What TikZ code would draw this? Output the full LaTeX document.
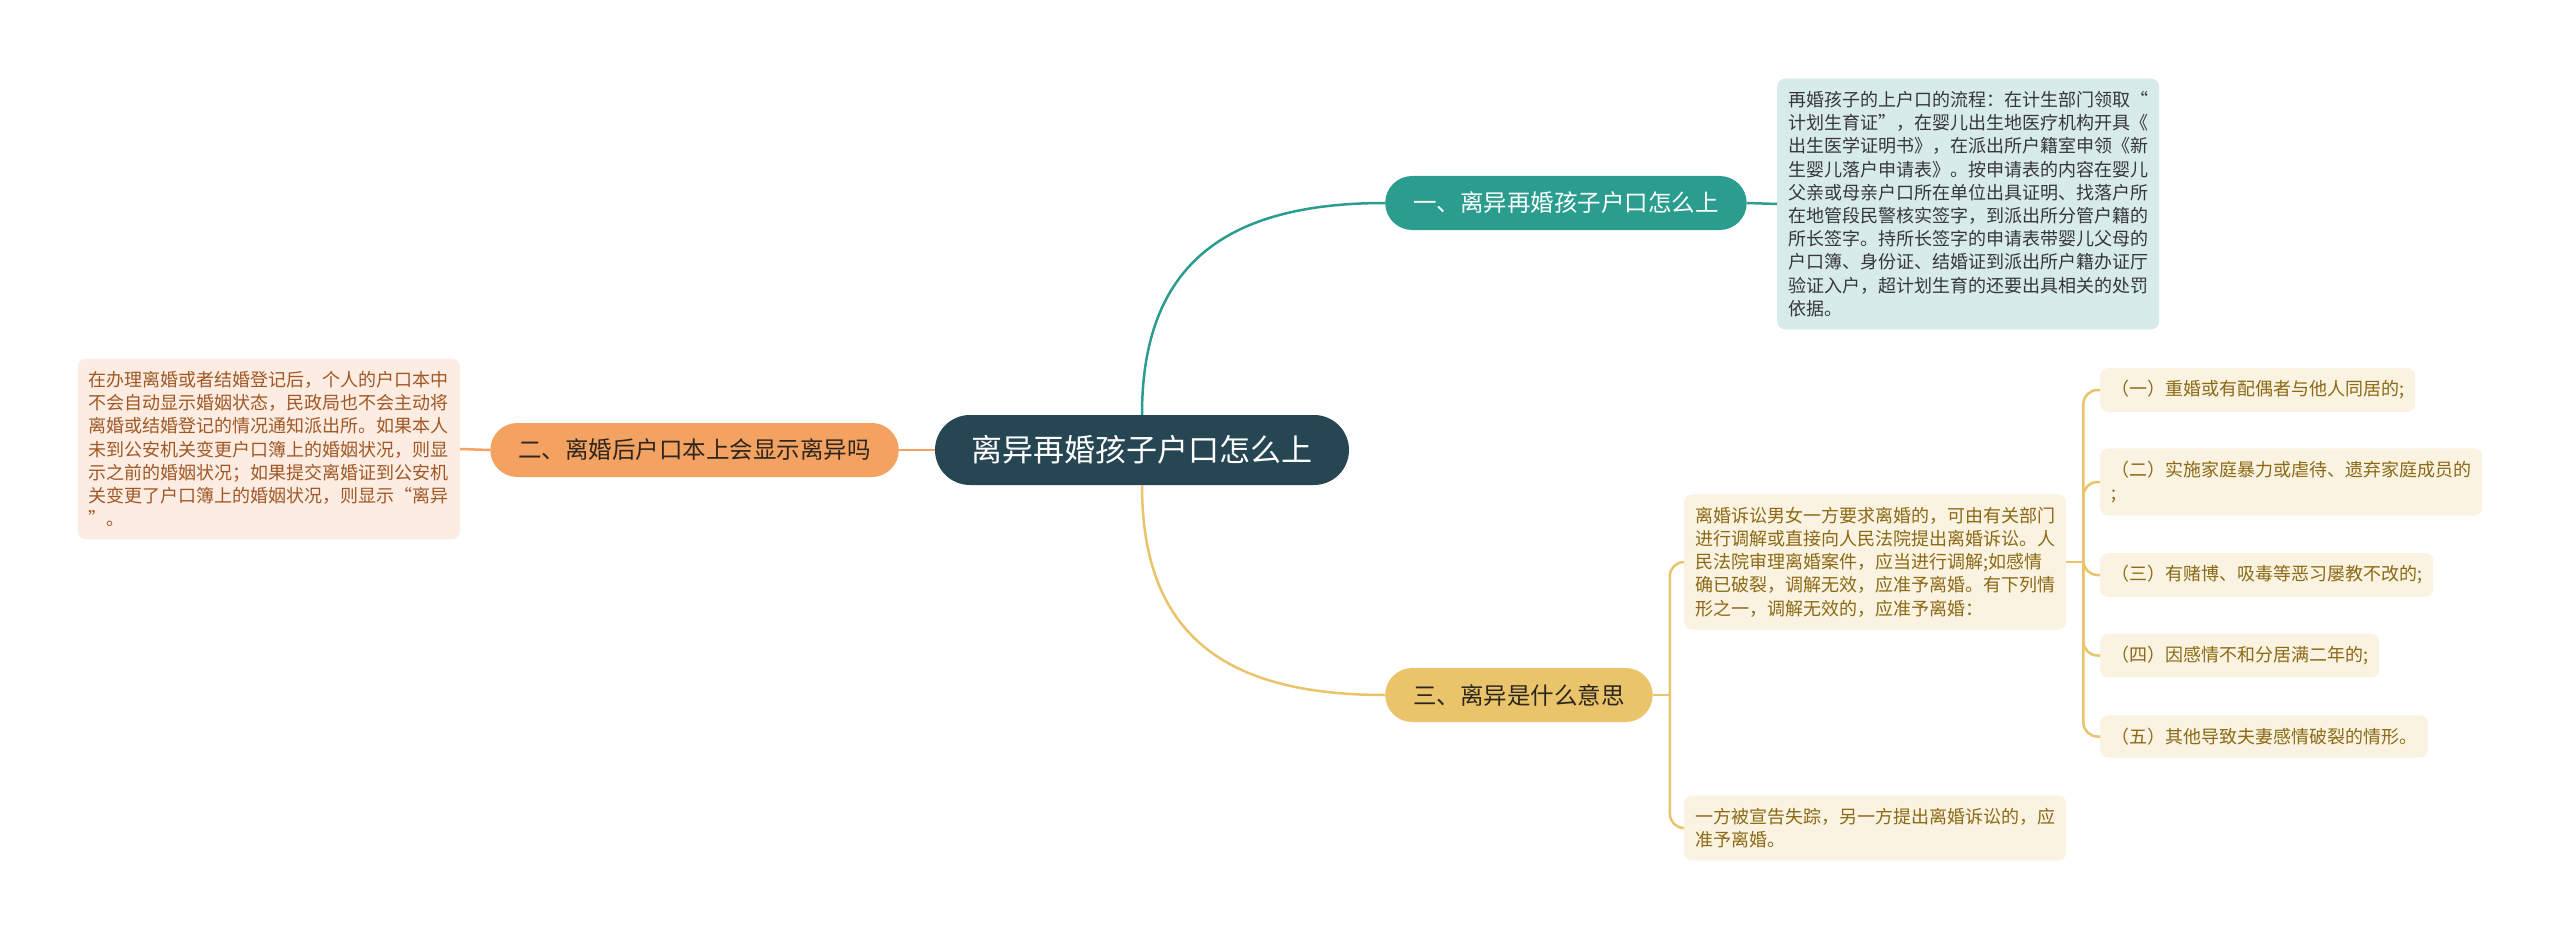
\documentclass[tikz,border=0pt]{standalone}
\usepackage{fontspec}
\setmainfont{Noto Sans CJK SC}
\usetikzlibrary{positioning}
\definecolor{cRoot}   {RGB}{38,70,83}
\definecolor{cTeal}   {RGB}{42,157,143}
\definecolor{cOrange} {RGB}{244,162,97}
\definecolor{cYellow} {RGB}{233,196,106}
\definecolor{cTealBg} {RGB}{215,235,233}
\definecolor{cOrangeBg}{RGB}{253,236,225}
\definecolor{cYellowBg}{RGB}{250,243,226}
\definecolor{cDark}   {RGB}{45,38,30}
\definecolor{cTealTx} {RGB}{55,55,55}
\definecolor{cOrangeTx}{RGB}{160,88,38}
\definecolor{cYellowTx}{RGB}{140,105,20}
\tikzset{
  root/.style={fill=cRoot,text=white,rounded corners=35pt,minimum width=414pt,
               minimum height=70pt,inner sep=0pt,font=\fontsize{31}{36}\selectfont},
  branch/.style={rounded corners=27pt,minimum height=54pt,inner xsep=28pt,
                 inner ysep=0pt,font=\fontsize{23.5}{28}\selectfont},
  brT/.style={branch,fill=cTeal,text=white},
  brO/.style={branch,fill=cOrange,text=cDark},
  brY/.style={branch,fill=cYellow,text=cDark},
  leaf/.style={rounded corners=8pt,align=left,inner xsep=11pt,inner ysep=12.5pt,
               font=\fontsize{18}{23.2}\selectfont},
  lfT/.style={leaf,fill=cTealBg,text=cTealTx},
  lfO/.style={leaf,fill=cOrangeBg,text=cOrangeTx},
  lfY/.style={leaf,fill=cYellowBg,text=cYellowTx},
  sub/.style={lfY},
  linkT/.style={cTeal,line width=2.5pt},
  linkO/.style={cOrange,line width=2.5pt},
  linkY/.style={cYellow,line width=2.5pt},
}

\begin{document}
\begin{tikzpicture}[x=1pt,y=-1pt]
  \useasboundingbox[fill=white] (0,0) rectangle (2560,939);
  \node[root] (root) at (1142,450) {离异再婚孩子户口怎么上};
  % main branches
  \node[brT,anchor=west] (b1) at (1385,203) {一、离异再婚孩子户口怎么上};
  \node[brO,anchor=east] (b2) at (899,450) {二、离婚后户口本上会显示离异吗};
  \node[brY,anchor=west] (b3) at (1385,695) {三、离异是什么意思};
  \draw[linkT] (root.north) .. controls +(0,-150) and +(-160,0) .. (b1.west);
  \draw[linkY] (root.south) .. controls +(0,150) and +(-160,0) .. (b3.west);
  \draw[linkO] (root.west) -- (b2.east);
  % leaves
  \node[lfT,anchor=west] (t1) at (1777,204) {再婚孩子的上户口的流程：在计生部门领取“\\
    计划生育证”，在婴儿出生地医疗机构开具《\\
    出生医学证明书》，在派出所户籍室申领《新\\
    生婴儿落户申请表》。按申请表的内容在婴儿\\
    父亲或母亲户口所在单位出具证明、找落户所\\
    在地管段民警核实签字，到派出所分管户籍的\\
    所长签字。持所长签字的申请表带婴儿父母的\\
    户口簿、身份证、结婚证到派出所户籍办证厅\\
    验证入户，超计划生育的还要出具相关的处罚\\
    依据。};
  \node[lfO,anchor=east] (o1) at (460,449) {在办理离婚或者结婚登记后，个人的户口本中\\
    不会自动显示婚姻状态，民政局也不会主动将\\
    离婚或结婚登记的情况通知派出所。如果本人\\
    未到公安机关变更户口簿上的婚姻状况，则显\\
    示之前的婚姻状况；如果提交离婚证到公安机\\
    关变更了户口簿上的婚姻状况，则显示“离异\\
    ”。};
  \node[lfY,anchor=west] (y1) at (1684,562) {离婚诉讼男女一方要求离婚的，可由有关部门\\
    进行调解或直接向人民法院提出离婚诉讼。人\\
    民法院审理离婚案件，应当进行调解;如感情\\
    确已破裂，调解无效，应准予离婚。有下列情\\
    形之一，调解无效的，应准予离婚：};
  \node[lfY,anchor=west] (y2) at (1684,828) {一方被宣告失踪，另一方提出离婚诉讼的，应\\
    准予离婚。};
  \draw[linkT] (b1.east) -- (t1.west);
  \draw[linkO] (b2.west) -- (o1.east);
  \draw[linkY] (b3.east) -- ++(17,0) coordinate (k3);
  \foreach \n in {y1,y2}
    \draw[linkY,rounded corners=14pt] (k3) |- (\n.west);
  % cases under y1
  \node[sub,anchor=west] (s1) at (2100,390) {（一）重婚或有配偶者与他人同居的;};
  \node[sub,anchor=west] (s2) at (2100,482) {（二）实施家庭暴力或虐待、遗弃家庭成员的\\;};
  \node[sub,anchor=west] (s3) at (2100,575) {（三）有赌博、吸毒等恶习屡教不改的;};
  \node[sub,anchor=west] (s4) at (2100,655.5) {（四）因感情不和分居满二年的;};
  \node[sub,anchor=west] (s5) at (2100,736.5) {（五）其他导致夫妻感情破裂的情形。};
  \draw[linkY] (y1.east) -- ++(17,0) coordinate (k4);
  \foreach \n in {s1,s2,s3,s4,s5}
    \draw[linkY,rounded corners=14pt] (k4) |- (\n.west);
\end{tikzpicture}
\end{document}
